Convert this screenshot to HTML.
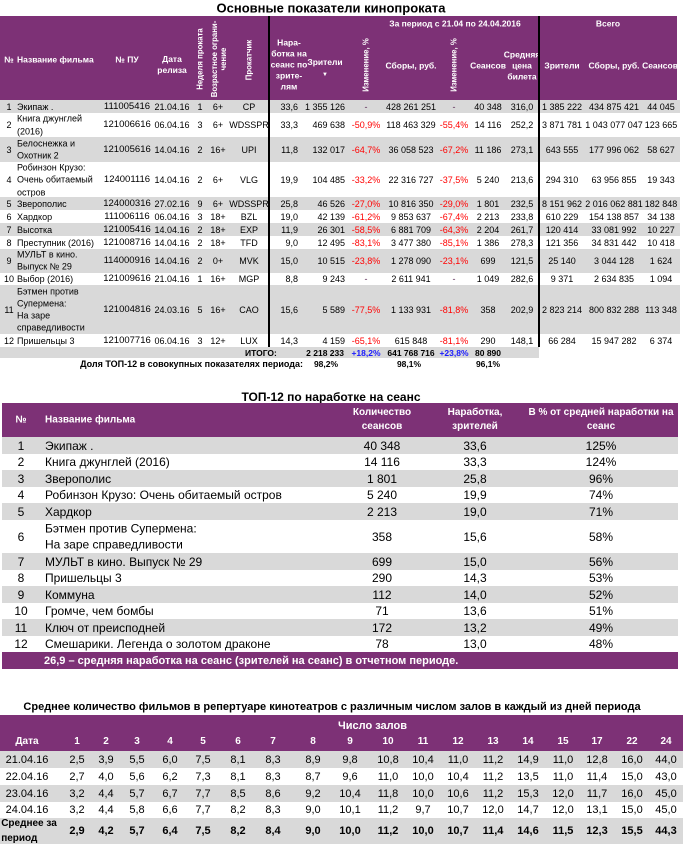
<!DOCTYPE html>
<html><head><meta charset="utf-8">
<style>
*{margin:0;padding:0;box-sizing:border-box}
body{width:683px;height:844px;position:relative;background:#fff;font-family:"Liberation Sans","DejaVu Sans",sans-serif;color:#000;overflow:hidden}
.a{position:absolute}
.p{background:#7D3176}
.g{background:#D9D9D9}
.c,.v,.l,.rr{position:absolute;white-space:nowrap}
.c{transform:translate(-50%,-50%);text-align:center}
.l{transform:translate(0,-50%);text-align:left}
.rr{transform:translate(-100%,-50%);text-align:right}
.v{transform:translate(-50%,-50%) rotate(-90deg);text-align:center}
.h{color:#fff;font-weight:bold;font-size:8.5px;line-height:11px}
.hv{color:#fff;font-weight:bold;font-size:7.8px;line-height:9px}
.ttl{font-weight:bold;color:#000}
.r{position:absolute}
.r>span{position:absolute;top:50%;white-space:nowrap;transform:translate(-50%,-50%)}
/* table 1 */
.t1{left:0;width:680px;font-size:9px;line-height:12px}
.t1>span:nth-child(1){left:9px}
.t1>span:nth-child(2){left:17px;transform:translate(0,-50%);text-align:left}
.t1>span:nth-child(3){left:127px;font-size:9.5px}
.t1>span:nth-child(4){left:172px}
.t1>span:nth-child(5){left:200px}
.t1>span:nth-child(6){left:218px}
.t1>span:nth-child(7){left:249px}
.t1>span:nth-child(8){left:298px;transform:translate(-100%,-50%)}
.t1>span:nth-child(9){left:345px;transform:translate(-100%,-50%)}
.t1>span:nth-child(10){left:366px}
.t1>span:nth-child(11){left:411px}
.t1>span:nth-child(12){left:454px}
.t1>span:nth-child(13){left:488px}
.t1>span:nth-child(14){left:522px}
.t1>span:nth-child(15){left:562px}
.t1>span:nth-child(16){left:614px}
.t1>span:nth-child(17){left:661px}
.n{color:#FF0000}
.d{color:#5a2a55}
.b{color:#1a1aff;font-weight:bold}
/* table 2 */
.t2{left:2px;width:676px;font-size:12px;line-height:16.5px}
.t2>span:nth-child(1){left:19px}
.t2>span:nth-child(2){left:43px;transform:translate(0,-50%)}
.t2>span:nth-child(3){left:380px}
.t2>span:nth-child(4){left:473px}
.t2>span:nth-child(5){left:599px}
/* table 3 */
.t3{left:0;width:683px;font-size:11px;line-height:14px}
.t3>span:nth-child(1){left:27px}
.t3>span:nth-child(2){left:77px}
.t3>span:nth-child(3){left:106px}
.t3>span:nth-child(4){left:137px}
.t3>span:nth-child(5){left:170px}
.t3>span:nth-child(6){left:203px}
.t3>span:nth-child(7){left:238px}
.t3>span:nth-child(8){left:273px}
.t3>span:nth-child(9){left:313px}
.t3>span:nth-child(10){left:350px}
.t3>span:nth-child(11){left:388px}
.t3>span:nth-child(12){left:423px}
.t3>span:nth-child(13){left:458px}
.t3>span:nth-child(14){left:493px}
.t3>span:nth-child(15){left:528px}
.t3>span:nth-child(16){left:563px}
.t3>span:nth-child(17){left:597px}
.t3>span:nth-child(18){left:632px}
.t3>span:nth-child(19){left:666px}
.t3h{color:#fff;font-weight:bold;font-size:10px}
.bold{font-weight:bold}
</style></head><body>

<!-- ===== TABLE 1 ===== -->
<div class="c ttl" style="left:331px;top:8px;font-size:13px">Основные показатели кинопроката</div>
<div class="a p" style="left:0;top:16px;width:677px;height:84px"></div>

<span class="c h" style="left:9px;top:60px">№</span>
<span class="l h" style="left:17px;top:60px">Название фильма</span>
<span class="c h" style="left:127px;top:60px">№ ПУ</span>
<span class="c h" style="left:172px;top:65px">Дата<br>релиза</span>
<span class="v hv" style="left:200px;top:59px">Неделя проката</span>
<span class="v hv" style="left:219px;top:59px">Возрастное ограни-<br>чение</span>
<span class="v hv" style="left:249px;top:60px">Прокатчик</span>
<span class="c h" style="left:289px;top:65px">Нара-<br>ботка на<br>сеанс по<br>зрите-<br>лям</span>
<span class="c h" style="left:325px;top:69px">Зрители<br><span style="font-size:6px">▼</span></span>
<span class="v hv" style="left:366px;top:65px">Изменение, %</span>
<span class="c h" style="left:411px;top:66px">Сборы, руб.</span>
<span class="v hv" style="left:454px;top:65px">Изменение, %</span>
<span class="c h" style="left:488px;top:66px">Сеансов</span>
<span class="c h" style="left:522px;top:66px">Средняя<br>цена<br>билета</span>
<span class="c h" style="left:562px;top:66px">Зрители</span>
<span class="c h" style="left:614px;top:66px">Сборы, руб.</span>
<span class="c h" style="left:660px;top:66px">Сеансов</span>
<span class="c h" style="left:455px;top:24px">За период с 21.04 по 24.04.2016</span>
<span class="c h" style="left:608px;top:24px">Всего</span>

<div class="r t1 g" style="top:100px;height:13px"><span>1</span><span>Экипаж .</span><span>111005416</span><span>21.04.16</span><span>1</span><span>6+</span><span>CP</span><span>33,6</span><span>1 355 126</span><span class="d">-</span><span>428 261 251</span><span class="d">-</span><span>40 348</span><span>316,0</span><span>1 385 222</span><span>434 875 421</span><span>44 045</span></div>
<div class="r t1" style="top:113px;height:24px"><span>2</span><span style="line-height:12.5px">Книга джунглей<br>(2016)</span><span>121006616</span><span>06.04.16</span><span>3</span><span>6+</span><span>WDSSPR</span><span>33,3</span><span>469 638</span><span class="n">-50,9%</span><span>118 463 329</span><span class="n">-55,4%</span><span>14 116</span><span>252,2</span><span>3 871 781</span><span>1 043 077 047</span><span>123 665</span></div>
<div class="r t1 g" style="top:137px;height:25px"><span>3</span><span style="line-height:12.5px">Белоснежка и<br>Охотник 2</span><span>121005616</span><span>14.04.16</span><span>2</span><span>16+</span><span>UPI</span><span>11,8</span><span>132 017</span><span class="n">-64,7%</span><span>36 058 523</span><span class="n">-67,2%</span><span>11 186</span><span>273,1</span><span>643 555</span><span>177 996 062</span><span>58 627</span></div>
<div class="r t1" style="top:162px;height:35px"><span>4</span><span style="line-height:12.5px">Робинзон Крузо:<br>Очень обитаемый<br>остров</span><span>124001116</span><span>14.04.16</span><span>2</span><span>6+</span><span>VLG</span><span>19,9</span><span>104 485</span><span class="n">-33,2%</span><span>22 316 727</span><span class="n">-37,5%</span><span>5 240</span><span>213,6</span><span>294 310</span><span>63 956 855</span><span>19 343</span></div>
<div class="r t1 g" style="top:197px;height:13px"><span>5</span><span>Зверополис</span><span>124000316</span><span>27.02.16</span><span>9</span><span>6+</span><span>WDSSPR</span><span>25,8</span><span>46 526</span><span class="n">-27,0%</span><span>10 816 350</span><span class="n">-29,0%</span><span>1 801</span><span>232,5</span><span>8 151 962</span><span>2 016 062 881</span><span>182 848</span></div>
<div class="r t1" style="top:210px;height:13px"><span>6</span><span>Хардкор</span><span>111006116</span><span>06.04.16</span><span>3</span><span>18+</span><span>BZL</span><span>19,0</span><span>42 139</span><span class="n">-61,2%</span><span>9 853 637</span><span class="n">-67,4%</span><span>2 213</span><span>233,8</span><span>610 229</span><span>154 138 857</span><span>34 138</span></div>
<div class="r t1 g" style="top:223px;height:13px"><span>7</span><span>Высотка</span><span>121005416</span><span>14.04.16</span><span>2</span><span>18+</span><span>EXP</span><span>11,9</span><span>26 301</span><span class="n">-58,5%</span><span>6 881 709</span><span class="n">-64,3%</span><span>2 204</span><span>261,7</span><span>120 414</span><span>33 081 992</span><span>10 227</span></div>
<div class="r t1" style="top:236px;height:13px"><span>8</span><span>Преступник (2016)</span><span>121008716</span><span>14.04.16</span><span>2</span><span>18+</span><span>TFD</span><span>9,0</span><span>12 495</span><span class="n">-83,1%</span><span>3 477 380</span><span class="n">-85,1%</span><span>1 386</span><span>278,3</span><span>121 356</span><span>34 831 442</span><span>10 418</span></div>
<div class="r t1 g" style="top:249px;height:24px"><span>9</span><span style="line-height:11.5px">МУЛЬТ в кино.<br>Выпуск № 29</span><span>114000916</span><span>14.04.16</span><span>2</span><span>0+</span><span>MVK</span><span>15,0</span><span>10 515</span><span class="n">-23,8%</span><span>1 278 090</span><span class="n">-23,1%</span><span>699</span><span>121,5</span><span>25 140</span><span>3 044 128</span><span>1 624</span></div>
<div class="r t1" style="top:273px;height:12px"><span>10</span><span>Выбор (2016)</span><span>121009616</span><span>21.04.16</span><span>1</span><span>16+</span><span>MGP</span><span>8,8</span><span>9 243</span><span class="d">-</span><span>2 611 941</span><span class="d">-</span><span>1 049</span><span>282,6</span><span>9 371</span><span>2 634 835</span><span>1 094</span></div>
<div class="r t1 g" style="top:285px;height:49px"><span>11</span><span style="line-height:12.3px">Бэтмен против<br>Супермена:<br>На заре<br>справедливости</span><span>121004816</span><span>24.03.16</span><span>5</span><span>16+</span><span>CAO</span><span>15,6</span><span>5 589</span><span class="n">-77,5%</span><span>1 133 931</span><span class="n">-81,8%</span><span>358</span><span>202,9</span><span>2 823 214</span><span>800 832 288</span><span>113 348</span></div>
<div class="r t1" style="top:334px;height:13px"><span>12</span><span>Пришельцы 3</span><span>121007716</span><span>06.04.16</span><span>3</span><span>12+</span><span>LUX</span><span>14,3</span><span>4 159</span><span class="n">-65,1%</span><span>615 848</span><span class="n">-81,1%</span><span>290</span><span>148,1</span><span>66 284</span><span>15 947 282</span><span>6 374</span></div>

<!-- ИТОГО -->
<div class="a g" style="left:0;top:347px;width:539px;height:11px"></div>
<span class="l bold" style="left:245px;top:352.5px;font-size:8.5px">ИТОГО:</span>
<span class="rr bold" style="left:344px;top:352.5px;font-size:8.5px">2 218 233</span>
<span class="c b" style="left:366px;top:352.5px;font-size:8.5px">+18,2%</span>
<span class="c bold" style="left:411px;top:352.5px;font-size:8.5px">641 768 716</span>
<span class="c b" style="left:454px;top:352.5px;font-size:8.5px">+23,8%</span>
<span class="c bold" style="left:488px;top:352.5px;font-size:8.5px">80 890</span>
<!-- Доля -->
<span class="rr bold" style="left:303px;top:364px;font-size:9px">Доля ТОП-12 в совокупных показателях периода:</span>
<span class="c bold" style="left:326px;top:364px;font-size:8.5px">98,2%</span>
<span class="c bold" style="left:409px;top:364px;font-size:8.5px">98,1%</span>
<span class="c bold" style="left:488px;top:364px;font-size:8.5px">96,1%</span>

<!-- vertical lines -->
<div class="a" style="left:268px;top:16px;width:1.5px;height:331px;background:#000"></div>
<div class="a" style="left:538px;top:16px;width:1.5px;height:331px;background:#000"></div>

<!-- ===== TABLE 2 ===== -->
<div class="c ttl" style="left:331px;top:397px;font-size:12px">ТОП-12 по наработке на сеанс</div>
<div class="a p" style="left:2px;top:403px;width:676px;height:34px"></div>
<span class="c" style="left:21px;top:420px;color:#fff;font-weight:bold;font-size:10px">№</span>
<span class="l" style="left:45px;top:420px;color:#fff;font-weight:bold;font-size:10px">Название фильма</span>
<span class="c" style="left:382px;top:420px;color:#fff;font-weight:bold;font-size:10px;line-height:14px">Количество<br>сеансов</span>
<span class="c" style="left:475px;top:420px;color:#fff;font-weight:bold;font-size:10px;line-height:14px">Наработка,<br>зрителей</span>
<span class="c" style="left:601px;top:420px;color:#fff;font-weight:bold;font-size:10px;line-height:14px">В % от средней наработки на<br>сеанс</span>

<div class="r t2 g" style="top:437px;height:17px"><span>1</span><span>Экипаж .</span><span>40 348</span><span>33,6</span><span>125%</span></div>
<div class="r t2" style="top:454px;height:16px"><span>2</span><span>Книга джунглей (2016)</span><span>14 116</span><span>33,3</span><span>124%</span></div>
<div class="r t2 g" style="top:470px;height:17px"><span>3</span><span>Зверополис</span><span>1 801</span><span>25,8</span><span>96%</span></div>
<div class="r t2" style="top:487px;height:16px"><span>4</span><span>Робинзон Крузо: Очень обитаемый остров</span><span>5 240</span><span>19,9</span><span>74%</span></div>
<div class="r t2 g" style="top:503px;height:17px"><span>5</span><span>Хардкор</span><span>2 213</span><span>19,0</span><span>71%</span></div>
<div class="r t2" style="top:520px;height:33px"><span>6</span><span>Бэтмен против Супермена:<br>На заре справедливости</span><span>358</span><span>15,6</span><span>58%</span></div>
<div class="r t2 g" style="top:553px;height:17px"><span>7</span><span>МУЛЬТ в кино. Выпуск № 29</span><span>699</span><span>15,0</span><span>56%</span></div>
<div class="r t2" style="top:570px;height:16px"><span>8</span><span>Пришельцы 3</span><span>290</span><span>14,3</span><span>53%</span></div>
<div class="r t2 g" style="top:586px;height:17px"><span>9</span><span>Коммуна</span><span>112</span><span>14,0</span><span>52%</span></div>
<div class="r t2" style="top:603px;height:16px"><span>10</span><span>Громче, чем бомбы</span><span>71</span><span>13,6</span><span>51%</span></div>
<div class="r t2 g" style="top:619px;height:17px"><span>11</span><span>Ключ от преисподней</span><span>172</span><span>13,2</span><span>49%</span></div>
<div class="r t2" style="top:636px;height:16px"><span>12</span><span>Смешарики. Легенда о золотом драконе</span><span>78</span><span>13,0</span><span>48%</span></div>
<div class="a p" style="left:2px;top:652px;width:676px;height:17px"></div>
<span class="l" style="left:44px;top:660.5px;color:#fff;font-weight:bold;font-size:11px">26,9 – средняя наработка на сеанс (зрителей на сеанс) в отчетном периоде.</span>

<!-- ===== TABLE 3 ===== -->
<div class="c ttl" style="left:332px;top:707px;font-size:11px">Среднее количество фильмов в репертуаре кинотеатров с различным числом залов в каждый из дней периода</div>
<div class="a p" style="left:0;top:715px;width:683px;height:36px"></div>
<span class="l" style="left:338px;top:726px;color:#fff;font-weight:bold;font-size:11px">Число залов</span>
<div class="r t3 t3h" style="top:733px;height:17px"><span>Дата</span><span>1</span><span>2</span><span>3</span><span>4</span><span>5</span><span>6</span><span>7</span><span>8</span><span>9</span><span>10</span><span>11</span><span>12</span><span>13</span><span>14</span><span>15</span><span>17</span><span>22</span><span>24</span></div>

<div class="r t3 g" style="top:751px;height:17px"><span>21.04.16</span><span>2,5</span><span>3,9</span><span>5,5</span><span>6,0</span><span>7,5</span><span>8,1</span><span>8,3</span><span>8,9</span><span>9,8</span><span>10,8</span><span>10,4</span><span>11,0</span><span>11,2</span><span>14,9</span><span>11,0</span><span>12,8</span><span>16,0</span><span>44,0</span></div>
<div class="r t3" style="top:768px;height:17px"><span>22.04.16</span><span>2,7</span><span>4,0</span><span>5,6</span><span>6,2</span><span>7,3</span><span>8,1</span><span>8,3</span><span>8,7</span><span>9,6</span><span>11,0</span><span>10,0</span><span>10,4</span><span>11,2</span><span>13,5</span><span>11,0</span><span>11,4</span><span>15,0</span><span>43,0</span></div>
<div class="r t3 g" style="top:785px;height:17px"><span>23.04.16</span><span>3,2</span><span>4,4</span><span>5,7</span><span>6,7</span><span>7,7</span><span>8,5</span><span>8,6</span><span>9,2</span><span>10,4</span><span>11,8</span><span>10,0</span><span>10,6</span><span>11,2</span><span>15,3</span><span>12,0</span><span>11,7</span><span>16,0</span><span>45,0</span></div>
<div class="r t3" style="top:802px;height:16px"><span>24.04.16</span><span>3,2</span><span>4,4</span><span>5,8</span><span>6,6</span><span>7,7</span><span>8,2</span><span>8,3</span><span>9,0</span><span>10,1</span><span>11,2</span><span>9,7</span><span>10,7</span><span>12,0</span><span>14,7</span><span>12,0</span><span>13,1</span><span>15,0</span><span>45,0</span></div>
<div class="r t3 g bold" style="top:818px;height:26px"><span style="left:29px;font-size:10px;line-height:15px">Среднее за<br>период</span><span>2,9</span><span>4,2</span><span>5,7</span><span>6,4</span><span>7,5</span><span>8,2</span><span>8,4</span><span>9,0</span><span>10,0</span><span>11,2</span><span>10,0</span><span>10,7</span><span>11,4</span><span>14,6</span><span>11,5</span><span>12,3</span><span>15,5</span><span>44,3</span></div>

</body></html>
